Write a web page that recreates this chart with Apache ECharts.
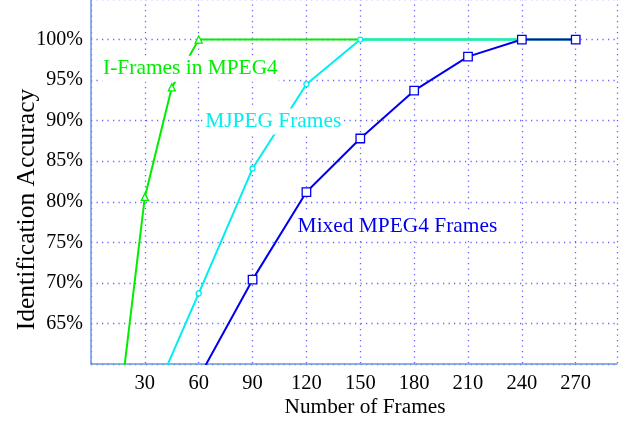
<!DOCTYPE html>
<html>
<head>
<meta charset="utf-8">
<script src="https://cdn.jsdelivr.net/npm/echarts@6/dist/echarts.min.js"></script>
<style>
  html, body { margin: 0; padding: 0; background: #fff; }
  #chart { width: 629px; height: 422px; }
</style>
</head>
<body>
<div id="chart"></div>
<script>
// Identification accuracy (%) vs number of frames, three frame types.
const iFramesX = [15, 30, 45, 60, 90, 120, 150, 180, 210, 240, 270];
const iFramesY = [53, 80.6, 94.1, 100, 100, 100, 100, 100, 100, 100, 100];
const iFramesMarked = [30, 45, 60];

const mjpegX = [30, 60, 90, 120, 150, 180, 210, 240];
const mjpegY = [53.5, 68.7, 84.1, 94.5, 100, 100, 100, 100];
const mjpegMarked = [60, 90, 120, 150];

const mixedX = [60, 90, 120, 150, 180, 210, 240, 270];
const mixedY = [58.3, 70.4, 81.2, 87.8, 93.7, 97.9, 100, 100];
const mixedMarked = [90, 120, 150, 180, 210, 240, 270];

const xTicks = [30, 60, 90, 120, 150, 180, 210, 240, 270];
const yTicks = [65, 70, 75, 80, 85, 90, 95, 100];

const seriesNames = ['I-Frames in MPEG4', 'MJPEG Frames', 'Mixed MPEG4 Frames'];
const seriesColors = ['#00ee00', '#00eeee', '#0000ee'];
// where each series' name is written on the plot (data coordinates)
const nameAnchors = [[55.4, 96.4], [101.5, 89.9], [170.7, 77.0]];

const FONT = '"Liberation Serif", "Times New Roman", serif';
const GRID_DOTS = { color: '#6262ff', type: [1.2, 4.3], width: 1.3 };

function pairs(xs, ys) { return xs.map((x, i) => [x, ys[i]]); }

function makeSeries(idx, xs, ys, marked, symbol, symbolSize) {
  const color = seriesColors[idx];
  return {
    name: seriesNames[idx],
    type: 'line',
    data: pairs(xs, ys).map(p => ({
      value: p,
      symbol: marked.includes(p[0]) ? symbol : 'none'
    })),
    symbolSize: symbolSize,
    showAllSymbol: true,
    clip: true,
    z: 2 + idx,
    lineStyle: { color: color, width: 2 },
    itemStyle: { color: '#fff', borderColor: color, borderWidth: 1.3 },
    emphasis: { disabled: true },
    animation: false
  };
}

const chart = echarts.init(document.getElementById('chart'), null, { renderer: 'canvas' });
chart.setOption({
  backgroundColor: '#fff',
  animation: false,
  grid: { left: 91, right: 12, top: -1, bottom: 58, containLabel: false, outerBoundsMode: 'none' },
  xAxis: {
    type: 'value',
    min: 0,
    max: 293,
    interval: 30,
    name: 'Number of Frames',
    nameLocation: 'middle',
    nameGap: 33,
    nameMoveOverlap: false,
    nameTextStyle: { fontFamily: FONT, fontSize: 21.3, color: '#000', padding: [0, 0, 0, 22] },
    axisLine: { show: true, lineStyle: { color: '#6a96dc', width: 1.5 } },
    axisTick: { show: false },
    axisLabel: {
      margin: 9,
      fontFamily: FONT, fontSize: 20.5, color: '#000',
      formatter: v => xTicks.includes(v) ? String(v) : ''
    },
    splitLine: { show: true, lineStyle: GRID_DOTS }
  },
  yAxis: {
    type: 'value',
    min: 60,
    max: 105,
    interval: 5,
    name: 'Identification Accuracy',
    nameLocation: 'middle',
    nameGap: 51,
    nameMoveOverlap: false,
    nameTextStyle: { fontFamily: FONT, fontSize: 25.5, color: '#000', padding: [0, 56, 0, 0] },
    axisLine: { show: true, lineStyle: { color: '#6a96dc', width: 1.5 } },
    axisTick: { show: false },
    axisLabel: {
      margin: 8,
      fontFamily: FONT, fontSize: 20, color: '#000',
      formatter: v => yTicks.includes(v) ? v + '%' : ''
    },
    splitLine: { show: true, lineStyle: GRID_DOTS }
  },
  series: [
    makeSeries(0, iFramesX, iFramesY, iFramesMarked, 'triangle', 7),
    makeSeries(1, mjpegX, mjpegY, mjpegMarked, 'circle', 5),
    makeSeries(2, mixedX, mixedY, mixedMarked, 'rect', 8.5)
  ]
});

// series names written on the plot, each on a white box laid over the lines
chart.setOption({
  graphic: seriesNames.map((name, i) => {
    const [px, py] = chart.convertToPixel({ gridIndex: 0 }, nameAnchors[i]);
    return {
      type: 'text',
      x: px,
      y: py,
      z: 100,
      silent: true,
      style: {
        text: name,
        fill: seriesColors[i],
        font: '21.4px ' + FONT,
        align: 'center',
        verticalAlign: 'middle',
        backgroundColor: '#fff',
        padding: [3, 1, 2, 1]
      }
    };
  })
});
</script>
</body>
</html>
